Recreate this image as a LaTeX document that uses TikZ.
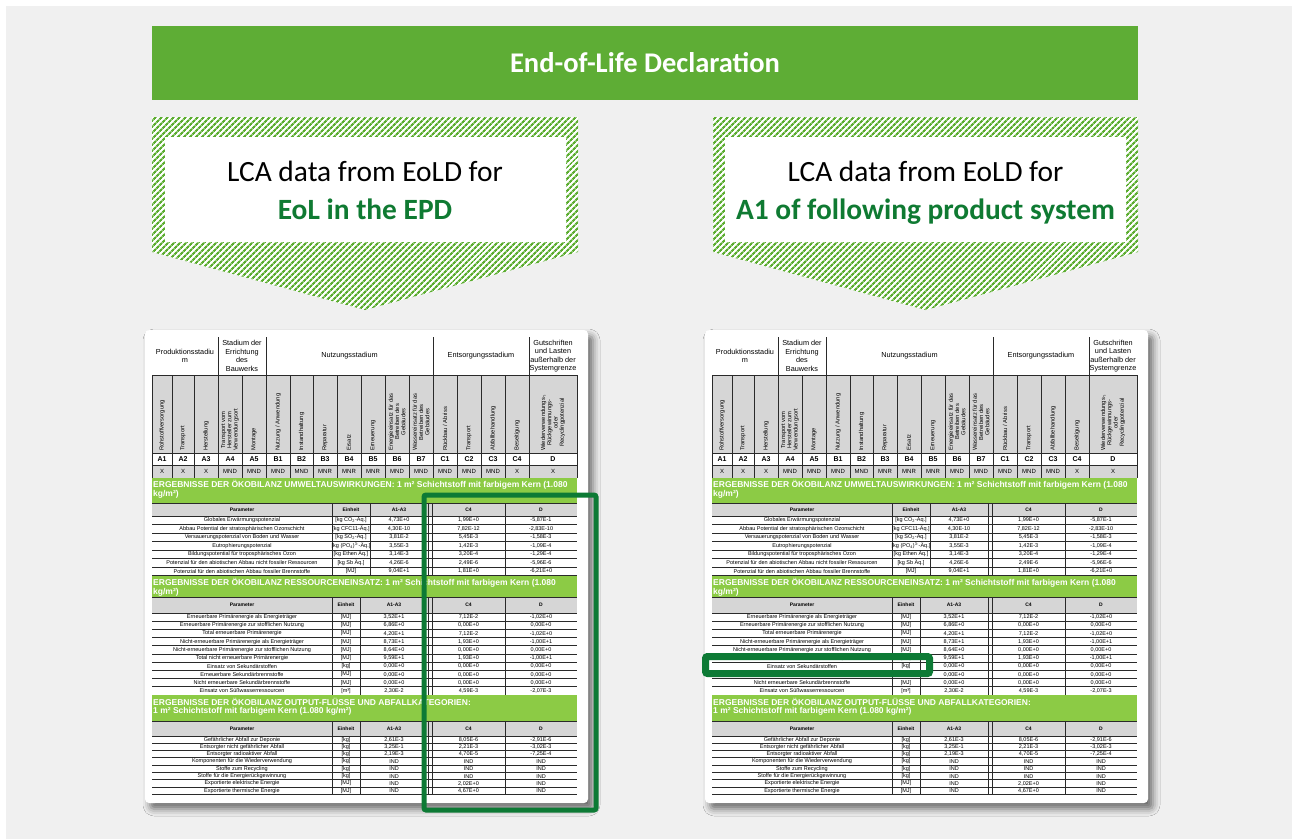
\documentclass[tikz,border=0pt]{standalone}
\usepackage{fontspec}
\setmainfont{Carlito}
\newfontfamily\arialf{Liberation Sans}
\usetikzlibrary{patterns.meta,shadows.blur}
\definecolor{bggray}{HTML}{F0F0F0}
\definecolor{bargreen}{HTML}{5EAD35}
\definecolor{hatchgreen}{HTML}{5CAD30}
\definecolor{txtgreen}{HTML}{0F7A32}
\definecolor{bandgreen}{HTML}{8CCB45}
\definecolor{bandline}{HTML}{5E8A30}
\definecolor{hlgreen}{HTML}{0D7A35}
\definecolor{cellgray}{HTML}{D6D6D6}
\definecolor{rulegray}{HTML}{2A2A2A}
\tikzset{
  card/.style={fill=white, rounded corners=4pt,
    blur shadow={shadow xshift=5pt,shadow yshift=-6pt,shadow blur radius=7pt,shadow opacity=55}},
  hatchshape/.style={pattern={Lines[angle=45,distance=4pt,line width=2.3pt]}, pattern color=hatchgreen},
  titlebar/.style={fill=bargreen, minimum width=986pt, minimum height=74pt, inner sep=0pt,
    text=white, font=\bfseries\fontsize{28.5}{32}\selectfont},
  lcatxt/.style={anchor=base, inner sep=0pt, font=\fontsize{29.4}{32}\selectfont, text=black},
  lcabold/.style={anchor=base, inner sep=0pt, font=\bfseries\fontsize{29.4}{32}\selectfont, text=txtgreen},
  rotcell/.style={font=\arialf\fontsize{5.8}{6.3}\selectfont, rotate=90, anchor=west, align=center, inner sep=0pt},
  grpcell/.style={font=\arialf\fontsize{7.3}{8.5}\selectfont, align=center, inner sep=0pt},
  codecell/.style={font=\arialf\bfseries\fontsize{7}{8}\selectfont, inner sep=0pt},
  markcell/.style={font=\arialf\fontsize{6}{7}\selectfont, inner sep=0pt},
  bandtxt/.style={font=\arialf\bfseries\fontsize{8.5}{9}\selectfont, text=white, anchor=west, inner sep=0pt},
  phdr/.style={font=\arialf\bfseries\fontsize{5}{6}\selectfont, inner sep=0pt},
  dcell/.style={font=\arialf\fontsize{5.5}{6}\selectfont, inner sep=0pt},
  vrule/.style={draw=rulegray, line width=0.7pt},
  hrule/.style={draw=rulegray, line width=0.9pt},
  hlbox/.style={draw=hlgreen, line width=5pt, rounded corners=2pt}
}
\newcommand\epdrow[7]{%
  \node[dcell] (#1#2p) at (242,{\ry+\rh/2}) {#3};
  \node[dcell] (#1#2u) at ({(332+\eb)/2},{\ry+\rh/2}) {#4};
  \node[dcell] (#1#2a) at ({(\eb+428)/2},{\ry+\rh/2}) {#5};
  \node[dcell] (#1#2c) at (468.5,{\ry+\rh/2}) {#6};
  \node[dcell] (#1#2d) at (541,{\ry+\rh/2}) {#7};
  \draw[hrule] (152,{\ry+\rh}) -- (577,{\ry+\rh});
  \pgfmathsetmacro\ry{\ry+\rh}%
}
\newcommand\epdptable[5]{%
  \fill[cellgray] (152,#3) rectangle (577,#4);
  \node[phdr] (#1#2hp) at (242,{(#3+#4)/2}) {Parameter};
  \node[phdr] (#1#2hu) at ({(332+\eb)/2},{(#3+#4)/2}) {Einheit};
  \node[phdr] (#1#2ha) at ({(\eb+428)/2},{(#3+#4)/2}) {A1-A3};
  \node[phdr] (#1#2hc) at (468.5,{(#3+#4)/2}) {C4};
  \node[phdr] (#1#2hd) at (541,{(#3+#4)/2}) {D};
  \foreach \x in {332,\eb,428,432,505} \draw[vrule] (\x,#3) -- (\x,#5);
  \draw[hrule] (152,#3) -- (577,#3);
  \draw[hrule] (152,#4) -- (577,#4);
}
\newcommand\epdband[6]{%
  \fill[bandgreen] (152,#3) rectangle (577,#4);
  \draw[bandline, line width=0.8pt] (152,#4) -- (577,#4);
  \node[bandtxt] (#1#2b1) at (153,{#3+6.5}) {#5};
  \node[bandtxt] (#1#2b2) at (153,{#3+16}) {#6};
}
\newcommand\epdcard[2]{%
\begin{scope}[xshift=#2]
  \path[card] (145,330) rectangle (588,803);
  \fill[cellgray] (152,375) rectangle (577,453);
  \fill[cellgray] (152,465) rectangle (577,478);
  \node[grpcell] (#1g1) at (185,356) {Produktionsstadiu\\m};
  \node[grpcell] (#1g2) at (242,356) {Stadium der\\Errichtung\\des\\Bauwerks};
  \node[grpcell] (#1g3) at (349.5,356) {Nutzungsstadium};
  \node[grpcell] (#1g4) at (481,356) {Entsorgungsstadium};
  \node[grpcell] (#1g5) at (553,356) {Gutschriften\\und Lasten\\außerhalb der\\Systemgrenze};
  \foreach \xa/\xb/\lab/\cd/\mk [count=\i] in {
    152/172/Rohstoffversorgung/A1/X,
    172/194/Transport/A2/X,
    194/218/Herstellung/A3/X,
    218/242/{Transport vom\\Hersteller zum\\Verwendungsort}/A4/MND,
    242/266/Montage/A5/MND,
    266/290/{Nutzung / Anwendung}/B1/MND,
    290/313/Instandhaltung/B2/MND,
    313/337/Reparatur/B3/MNR,
    337/361/Ersatz/B4/MNR,
    361/385/Erneuerung/B5/MNR,
    385/409/{Energieeinsatz für das\\Betreiben des\\Gebäudes}/B6/MND,
    409/433/{Wassereinsatz für das\\Betreiben des\\Gebäudes}/B7/MND,
    433/457/{Rückbau / Abriss}/C1/MND,
    457/481/Transport/C2/MND,
    481/505/Abfallbehandlung/C3/MND,
    505/529/Beseitigung/C4/X,
    529/577/{Wiederverwendungs-{,}\\Rückgewinnungs-\\oder\\Recyclingpotenzial}/D/X}{
    \node[rotcell] (#1h\i) at ({(\xa+\xb)/2},451) {\lab};
    \node[codecell] (#1c\i) at ({(\xa+\xb)/2},459) {\cd};
    \node[markcell] (#1m\i) at ({(\xa+\xb)/2},471.5) {\mk};
  }
  \foreach \x in {172,194,242,290,313,337,361,385,409,457,481,505} \draw[vrule] (\x,375) -- (\x,478);
  \foreach \x in {218,266,433,529} \draw[vrule] (\x,337) -- (\x,478);
  \foreach \x in {152,577} \draw[vrule] (\x,375) -- (\x,478);
  \foreach \y in {375,453,465,478} \draw[hrule] (152,\y) -- (577,\y);
  % table 1
  \epdband{#1}{t1}{478}{503}{ERGEBNISSE DER ÖKOBILANZ UMWELTAUSWIRKUNGEN: 1 m² Schichtstoff mit farbigem Kern (1.080}{kg/m²)}
  \def\eb{370}
  \epdptable{#1}{t1}{503}{516}{575.5}
  \def\ry{516}\def\rh{8.5}
  \epdrow{#1}{t1r1}{Globales Erwärmungspotenzial}{[kg CO\textsubscript{2}-Äq.]}{4,73E+0}{1,99E+0}{-5,87E-1}
  \epdrow{#1}{t1r2}{Abbau Potential der stratosphärischen Ozonschicht}{[kg CFC11-Äq.]}{4,30E-10}{7,82E-12}{-2,83E-10}
  \epdrow{#1}{t1r3}{Versauerungspotenzial von Boden und Wasser}{[kg SO\textsubscript{2}-Äq.]}{3,81E-2}{5,45E-3}{-1,58E-3}
  \epdrow{#1}{t1r4}{Eutrophierungspotenzial}{[kg (PO\textsubscript{4})\textsuperscript{3-}-Äq.]}{3,55E-3}{1,42E-3}{-1,09E-4}
  \epdrow{#1}{t1r5}{Bildungspotential für troposphärisches Ozon}{[kg Ethen Äq.]}{3,14E-3}{3,20E-4}{-1,29E-4}
  \epdrow{#1}{t1r6}{Potenzial für den abiotischen Abbau nicht fossiler Ressourcen}{[kg Sb Äq.]}{4,26E-6}{2,49E-6}{-5,96E-6}
  \epdrow{#1}{t1r7}{Potenzial für den abiotischen Abbau fossiler Brennstoffe}{[MJ]}{9,04E+1}{1,81E+0}{-6,21E+0}
  % table 2
  \epdband{#1}{t2}{576}{597}{ERGEBNISSE DER ÖKOBILANZ RESSOURCENEINSATZ: 1 m² Schichtstoff mit farbigem Kern (1.080}{kg/m²)}
  \def\eb{360}
  \epdptable{#1}{t2}{597}{613}{695}
  \def\ry{613}\def\rh{8.2}
  \epdrow{#1}{t2r1}{Erneuerbare Primärenergie als Energieträger}{[MJ]}{3,52E+1}{7,12E-2}{-1,02E+0}
  \epdrow{#1}{t2r2}{Erneuerbare Primärenergie zur stofflichen Nutzung}{[MJ]}{6,86E+0}{0,00E+0}{0,00E+0}
  \epdrow{#1}{t2r3}{Total erneuerbare Primärenergie}{[MJ]}{4,20E+1}{7,12E-2}{-1,02E+0}
  \epdrow{#1}{t2r4}{Nicht-erneuerbare Primärenergie als Energieträger}{[MJ]}{8,73E+1}{1,93E+0}{-1,00E+1}
  \epdrow{#1}{t2r5}{Nicht-erneuerbare Primärenergie zur stofflichen Nutzung}{[MJ]}{8,64E+0}{0,00E+0}{0,00E+0}
  \epdrow{#1}{t2r6}{Total nicht erneuerbare Primärenergie}{[MJ]}{9,59E+1}{1,93E+0}{-1,00E+1}
  \epdrow{#1}{t2r7}{Einsatz von Sekundärstoffen}{[kg]}{0,00E+0}{0,00E+0}{0,00E+0}
  \epdrow{#1}{t2r8}{Erneuerbare Sekundärbrennstoffe}{[MJ]}{0,00E+0}{0,00E+0}{0,00E+0}
  \epdrow{#1}{t2r9}{Nicht erneuerbare Sekundärbrennstoffe}{[MJ]}{0,00E+0}{0,00E+0}{0,00E+0}
  \epdrow{#1}{t2r10}{Einsatz von Süßwasserressourcen}{[m³]}{2,30E-2}{4,59E-3}{-2,07E-3}
  % table 3
  \epdband{#1}{t3}{695}{721}{ERGEBNISSE DER ÖKOBILANZ OUTPUT-FLÜSSE UND ABFALLKATEGORIEN:}{1 m² Schichtstoff mit farbigem Kern (1.080 kg/m²)}
  \def\eb{360}
  \epdptable{#1}{t3}{721}{736}{794.4}
  \def\ry{736}\def\rh{7.3}
  \epdrow{#1}{t3r1}{Gefährlicher Abfall zur Deponie}{[kg]}{2,61E-3}{8,05E-6}{-2,91E-6}
  \epdrow{#1}{t3r2}{Entsorgter nicht gefährlicher Abfall}{[kg]}{3,25E-1}{2,21E-3}{-3,02E-3}
  \epdrow{#1}{t3r3}{Entsorgter radioaktiver Abfall}{[kg]}{2,19E-3}{4,70E-5}{-7,25E-4}
  \epdrow{#1}{t3r4}{Komponenten für die Wiederverwendung}{[kg]}{IND}{IND}{IND}
  \epdrow{#1}{t3r5}{Stoffe zum Recycling}{[kg]}{IND}{IND}{IND}
  \epdrow{#1}{t3r6}{Stoffe für die Energierückgewinnung}{[kg]}{IND}{IND}{IND}
  \epdrow{#1}{t3r7}{Exportierte elektrische Energie}{[MJ]}{IND}{2,02E+0}{IND}
  \epdrow{#1}{t3r8}{Exportierte thermische Energie}{[MJ]}{IND}{4,67E+0}{IND}
\end{scope}}

\begin{document}
\begin{tikzpicture}[x=1pt,y=-1pt]
  \useasboundingbox (0,0) rectangle (1292,839);
  \fill[white] (0,0) rectangle (1292,839);
  \fill[bggray] (6,6) rectangle (1292,839);
  \node[titlebar] (title) at (645,63) {End-of-Life Declaration};
  % hatched arrows
  \fill[white] (152,117) -- (578,117) -- (578,252) -- (365,310) -- (152,252) -- cycle;
  \path[hatchshape] (152,117) -- (578,117) -- (578,252) -- (365,310) -- (152,252) -- cycle;
  \fill[white] (165,137) rectangle (566,242);
  \node[lcatxt] (l1) at (365,181) {LCA data from EoLD for};
  \node[lcabold] (l2) at (365,219) {EoL in the EPD};
  \fill[white] (713,117) -- (1138,117) -- (1138,252) -- (925.5,310) -- (713,252) -- cycle;
  \path[hatchshape] (713,117) -- (1138,117) -- (1138,252) -- (925.5,310) -- (713,252) -- cycle;
  \fill[white] (725,137) rectangle (1126,242);
  \node[lcatxt] (r1) at (925.5,181) {LCA data from EoLD for};
  \node[lcabold] (r2) at (925.5,219) {A1 of following product system};
  % tables
  \epdcard{L}{0pt}
  \epdcard{R}{560pt}
  % highlights
  \draw[hlbox] (424,495) rectangle (596,810);
  \draw[hlbox, line width=7pt] (705.5,656.5) rectangle (929.5,673.5);
\end{tikzpicture}
\end{document}
